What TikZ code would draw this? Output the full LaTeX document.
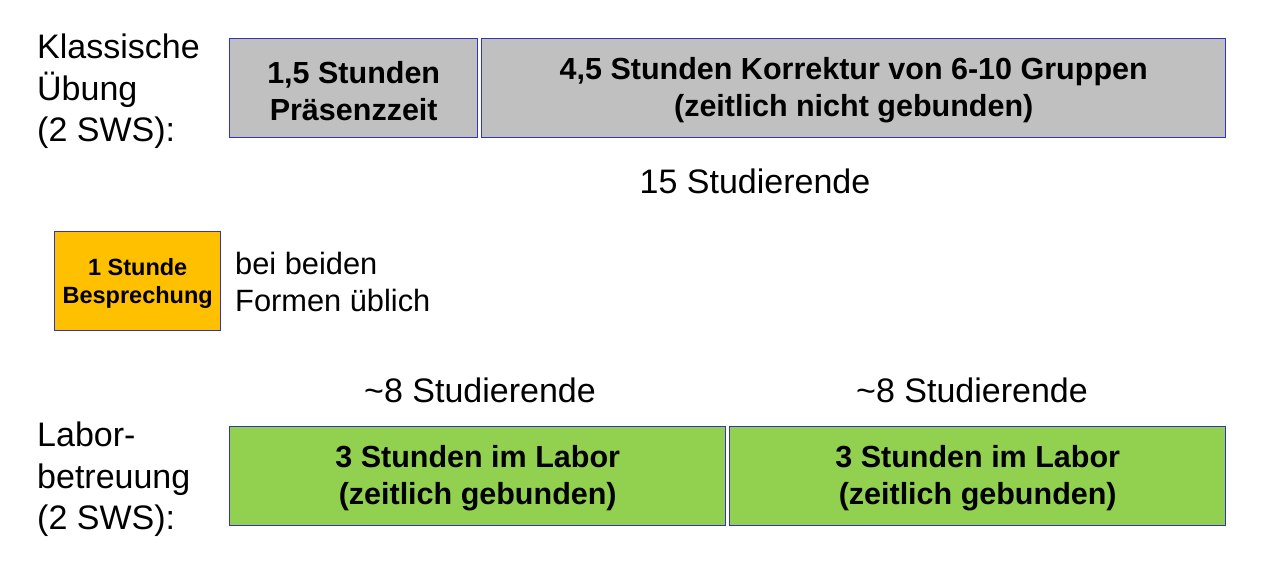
\documentclass[tikz,border=0pt]{standalone}
\usepackage{fontspec}
\setmainfont{Liberation Sans}
\definecolor{boxgrey}{HTML}{C0C0C0}
\definecolor{boxorange}{HTML}{FFC000}
\definecolor{boxgreen}{HTML}{92D050}
\definecolor{boxline}{HTML}{3333BB}
\newcommand{\topgap}{\rule{0pt}{27pt}}
\begin{document}
\begin{tikzpicture}[x=1pt,y=-1pt,
  blockbox/.style={draw=boxline,line width=1.4pt,inner sep=0pt,anchor=north west,align=center,
    font=\fontsize{30.5}{37}\selectfont\bfseries},
  lbl/.style={inner sep=0pt,align=left,anchor=north west,font=\fontsize{34}{41.5}\selectfont},
  note/.style={inner sep=0pt,font=\fontsize{34}{41}\selectfont}]
\useasboundingbox[fill=white] (0,0) rectangle (1261,576);
% labels
\node[lbl] (klass) at (37,34) {Klassische\\Übung\\(2 SWS):};
\node[lbl] (labor) at (37,422) {Labor-\\betreuung\\(2 SWS):};
% top row
\node[blockbox,fill=boxgrey,minimum width=248pt,minimum height=99pt] (praes) at (229,38) {\topgap1,5 Stunden\\Präsenzzeit};
\node[blockbox,fill=boxgrey,minimum width=744pt,minimum height=99pt] (korr) at (481,38) {\topgap4,5 Stunden Korrektur von 6-10 Gruppen\\(zeitlich nicht gebunden)};
\node[note] (stud15) at (755,181) {15 Studierende};
% middle
\node[blockbox,fill=boxorange,minimum width=166pt,minimum height=99pt,font=\fontsize{23.5}{28}\selectfont\bfseries] (bespr) at (54,231) {\rule{0pt}{21pt}1 Stunde\\Besprechung};
\node[inner sep=0pt,align=left,anchor=west,font=\fontsize{30.8}{37}\selectfont] (beide) at (235,282) {bei beiden\\Formen üblich};
% bottom row
\node[note] (stud8a) at (480,390) {\textasciitilde8 Studierende};
\node[note] (stud8b) at (972,390) {\textasciitilde8 Studierende};
\node[blockbox,fill=boxgreen,minimum width=496pt,minimum height=99pt] (laba) at (229,426) {\topgap3 Stunden im Labor\\(zeitlich gebunden)};
\node[blockbox,fill=boxgreen,minimum width=496pt,minimum height=99pt] (labb) at (729,426) {\topgap3 Stunden im Labor\\(zeitlich gebunden)};
\end{tikzpicture}
\end{document}
